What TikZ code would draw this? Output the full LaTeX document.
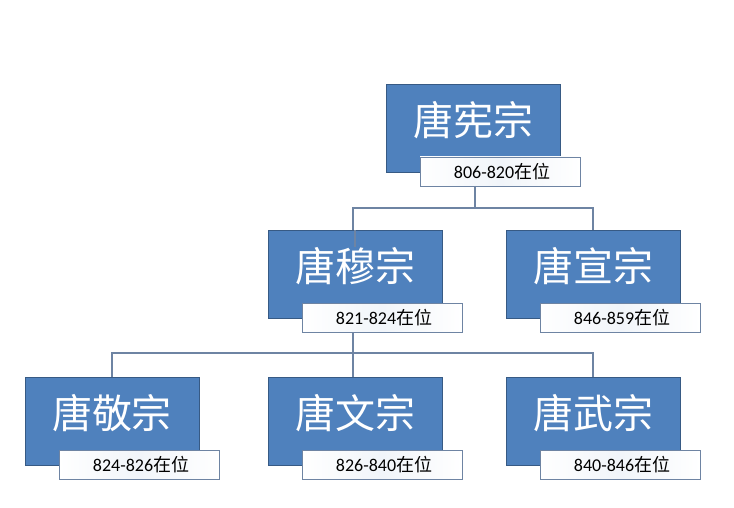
\documentclass[tikz,border=0pt]{standalone}
\usepackage{fontspec}
\newfontfamily\cjk{Noto Sans CJK SC}
\newfontfamily\num{Carlito}
\definecolor{bl}{HTML}{4F81BD}
\definecolor{ln}{HTML}{6E84A3}
\begin{document}
\begin{tikzpicture}[x=1pt,y=-1pt,
  blue/.style={fill=bl,draw=bl!70!black,line width=0.4pt},
  lab/.style={draw=ln,line width=0.8pt,left color=white,right color=white,middle color=bl!8},
  big/.style={text=white,font=\cjk\fontsize{40}{40}\selectfont,inner sep=0pt},
  small/.style={font=\fontsize{18}{18}\selectfont,inner sep=0pt,text=black},
  con/.style={draw=ln,line width=2.5pt}]
\useasboundingbox (0,0) rectangle (734,508);
\fill[white] (0,0) rectangle (734,508);
\newcommand\person[6]{% name, x0,y0, title, years
  \path[blue] (#2,#3) rectangle ++(174,88);
  \node[big] (#1t) at (#2+87,#3+36) {#4};
  \path[lab] (#2+34,#3+73) rectangle ++(160,29);
  \node[small] (#1l) at (#2+116,#3+88) {{\num #5}{\cjk 在位}};
  \coordinate (#1top) at (#2+87,#3);
  \coordinate (#1bot) at (#2+87,#3+102);
  \coordinate (#6) at (#2+87,#3);
}
\person{a}{386}{84}{唐宪宗}{806-820}{atop2}
\person{b}{268}{230}{唐穆宗}{821-824}{btop2}
\person{c}{506}{230}{唐宣宗}{846-859}{ctop2}
\person{d}{25}{377}{唐敬宗}{824-826}{dtop2}
\person{e}{268}{377}{唐文宗}{826-840}{etop2}
\person{f}{506}{377}{唐武宗}{840-846}{ftop2}
\coordinate (j1) at (475,186);
\coordinate (j2) at (475,208);
\draw[con] (j1) -- (j2);
\draw[con] (btop) -- (bt.north -| btop) ;
\draw[con] ([yshift=0pt]btop) ++(-2,0) ;
\draw[con] (353,230) |- (j2) -| (593,230);
\draw[con] (353,332) -- (353,353);
\draw[con] (112,377) |- (353,353) -| (593,377);
\draw[con] (353,353) -- (353,377);
\end{tikzpicture}
\end{document}
